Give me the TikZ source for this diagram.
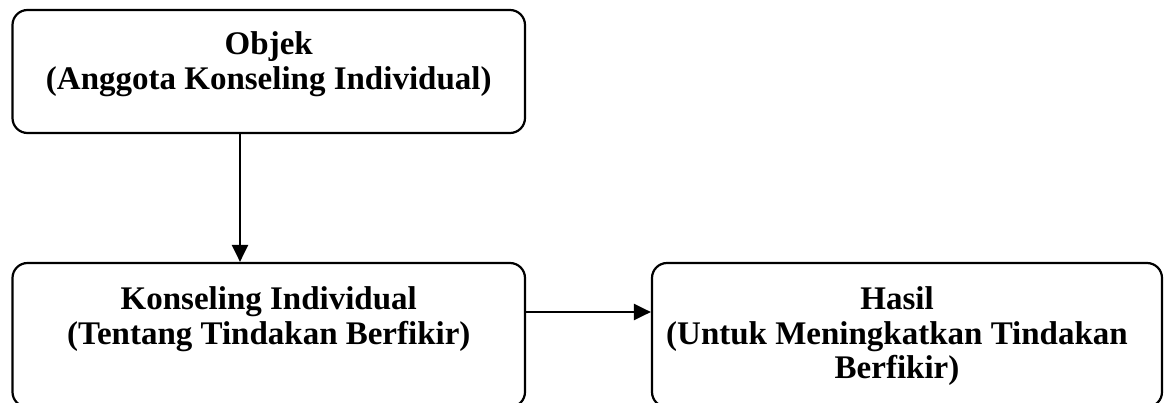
\documentclass[tikz,border=0pt]{standalone}
\usepackage{fontspec}
\setmainfont{Liberation Serif}
\usetikzlibrary{arrows.meta,positioning}

\begin{document}
\begin{tikzpicture}
	[x=0.5pt,y=-0.5pt,
	box/.style={draw,line width=1.1pt,rounded corners=7.5pt,minimum width=256.25pt,inner sep=0pt},
	txt/.style={align=center,inner sep=0pt,font=\fontsize{16.5}{17.3}\selectfont\bfseries},
	edge/.style={-{Triangle[length=8.5pt,width=8pt]},line width=1.1pt}]
	\useasboundingbox (0,0) rectangle (1167,402);
	\node[box,minimum height=61.5pt] (obj) at (268.75,71.5) {};
	\node[box,minimum height=72pt] (kons) at (268.75,335) {};
	\node[box,minimum height=72pt,minimum width=255pt] (hasil) at (907,335) {};
	
	\node[txt,below=11.25pt of obj.north] (objtxt) {Objek\\(Anggota Konseling Individual)};
	\node[txt,below=12.25pt of kons.north] (konstxt) {Konseling Individual\\(Tentang Tindakan Berfikir)};
	\node[txt,below=12.25pt of hasil.north,xshift=-5pt] (hasiltxt) {Hasil\\(Untuk Meningkatkan Tindakan\\Berfikir)};
	
	\coordinate (ax) at (240,0);
	\coordinate (ay) at (0,312);
	\draw[edge] (obj.south -| ax) -- (kons.north -| ax);
	\draw[edge] (kons.east |- ay) -- (hasil.west |- ay);
\end{tikzpicture}
\end{document}
